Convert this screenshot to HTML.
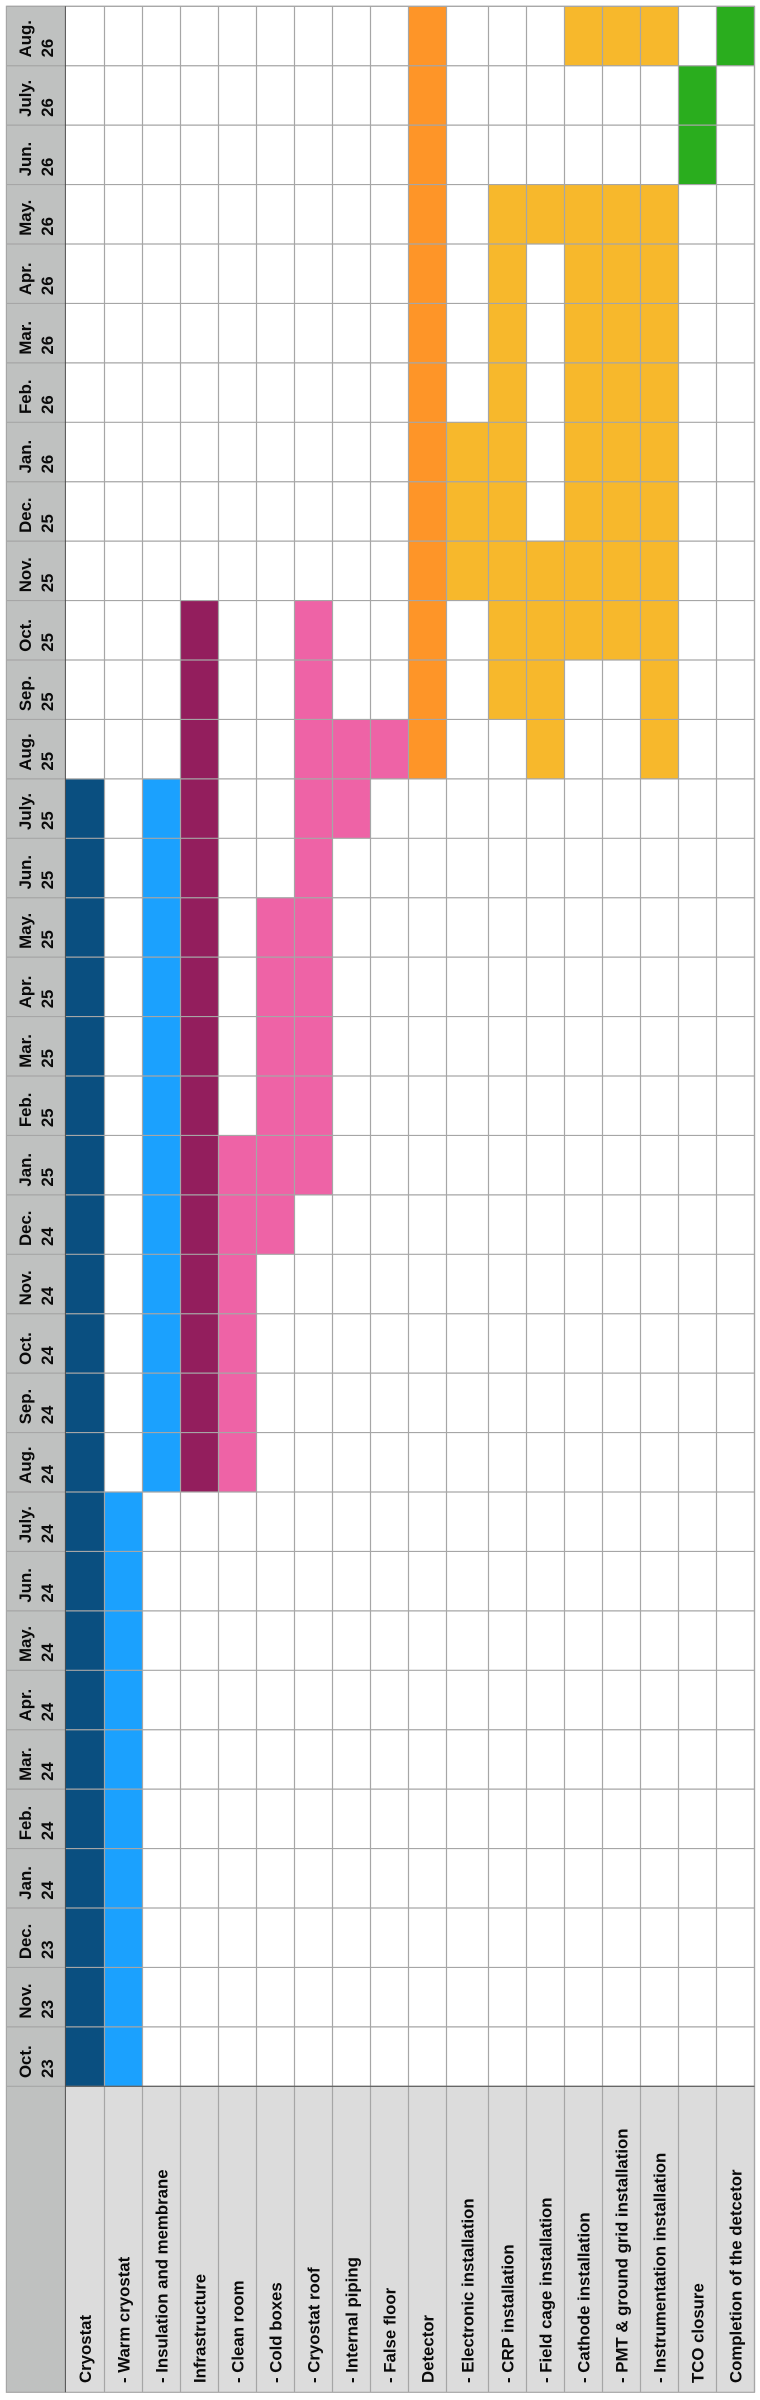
<!DOCTYPE html>
<html lang="en">
<head>
<meta charset="utf-8">
<title>Detector installation schedule</title>
<style>
html,body{margin:0;padding:0;background:#fff;}
body{width:760px;height:2400px;overflow:hidden;}
svg{display:block;}
text{font-family:"Liberation Sans",Arial,sans-serif;font-weight:bold;font-size:16.8px;fill:#0a0a0a;}
</style>
</head>
<body>
<svg id="chart" xmlns="http://www.w3.org/2000/svg" width="760" height="2400" viewBox="0 0 760 2400"></svg>
<script>
const monthLabels = ["Oct.","Nov.","Dec.","Jan.","Feb.","Mar.","Apr.","May.","Jun.","July.","Aug.","Sep.","Oct.","Nov.","Dec.","Jan.","Feb.","Mar.","Apr.","May.","Jun.","July.","Aug.","Sep.","Oct.","Nov.","Dec.","Jan.","Feb.","Mar.","Apr.","May.","Jun.","July.","Aug."];
const yearLabels = ["23","23","23","24","24","24","24","24","24","24","24","24","24","24","24","25","25","25","25","25","25","25","25","25","25","25","25","26","26","26","26","26","26","26","26"];
const taskLabels = ["Cryostat","- Warm cryostat","- Insulation and membrane","Infrastructure","- Clean room","- Cold boxes","- Cryostat roof","- Internal piping","- False floor","Detector","- Electronic installation","- CRP installation","- Field cage installation","- Cathode installation","- PMT & ground grid installation","- Instrumentation installation","TCO closure","Completion of the detcetor"];
/* Active month-index ranges [first, last] for each task; 0 = Oct. 23, 34 = Aug. 26 */
const taskRanges = [
  [[0,21]],
  [[0,9]],
  [[10,21]],
  [[10,24]],
  [[10,15]],
  [[14,19]],
  [[15,24]],
  [[21,22]],
  [[22,22]],
  [[22,34]],
  [[25,27]],
  [[23,31]],
  [[22,25],[31,31]],
  [[24,31],[34,34]],
  [[24,31],[34,34]],
  [[22,31],[34,34]],
  [[32,33]],
  [[34,34]]
];
const taskGroups = ["cryostat","warm","warm","infrastructure","piping","piping","piping","piping","piping","detector","install","install","install","install","install","install","closure","closure"];

const groupColors = {cryostat:"#0a4f80",warm:"#1ba1fe",infrastructure:"#931e5d",piping:"#ee63a6",detector:"#fe9528",install:"#f7b82c",closure:"#2aad1e"};
const GRID = "#a6a6a6", DARK = "#4d4d4d";
const frameLeft = 6.4, headerRight = 65.4, frameRight = 754.5, frameTop = 6.3, tableBottom = 2086.3, frameBottom = 2392.3;

function xScale(i){
  if(i <= 0) return headerRight;
  return 104.5 + 38*(i-1) + (i >= 11 ? 4 : 0);
}
function yScale(m){
  return tableBottom - (tableBottom - frameTop)/monthLabels.length*m;
}

const svg = document.getElementById("chart");
const NS = "http://www.w3.org/2000/svg";
function make(tag, attrs, parent){
  const el = document.createElementNS(NS, tag);
  for(const k in attrs) el.setAttribute(k, attrs[k]);
  (parent || svg).appendChild(el);
  return el;
}

/* backgrounds */
const headerBg = make("rect",{x:frameLeft,y:frameTop,width:headerRight-frameLeft,height:frameBottom-frameTop,fill:"#bfc1c0"});


const labelBg = make("rect",{x:headerRight,y:tableBottom,width:frameRight-headerRight,height:frameBottom-tableBottom,fill:"#dcdcdc"});



/* bars */
taskRanges.forEach(function(ranges, t){
  ranges.forEach(function(r){
    const bar = make("rect",{
      x:xScale(t),
      y:yScale(r[1]+1),
      width:xScale(t+1)-xScale(t),
      height:yScale(r[0])-yScale(r[1]+1),
      fill:groupColors[taskGroups[t]]
    });
    
    
  });
});

/* grid: rows */
for(let m = 0; m <= monthLabels.length; m++){
  const rowLine = make("line",{x1:frameLeft,x2:frameRight,y1:yScale(m),y2:yScale(m),stroke:GRID,"stroke-width":1.2});
  
  
}
/* grid: columns */
for(let t = 1; t <= taskLabels.length; t++){
  const colLine = make("line",{x1:xScale(t),x2:xScale(t),y1:frameTop,y2:frameBottom,stroke:GRID,"stroke-width":1.2});
  
  
}
/* outer frame */
const frame = make("rect",{x:frameLeft,y:frameTop,width:frameRight-frameLeft,height:frameBottom-frameTop,fill:"none",stroke:GRID,"stroke-width":1.2});


/* strong rules */
const headerRule = make("line",{x1:headerRight,x2:headerRight,y1:frameTop,y2:frameBottom,stroke:DARK,"stroke-width":1});


const labelRule = make("line",{x1:headerRight,x2:frameRight,y1:tableBottom,y2:tableBottom,stroke:DARK,"stroke-width":1});



/* month labels */
function vText(x, y, str){
  const el = make("text",{transform:"translate("+x+" "+y+") rotate(-90)"});
  el.textContent = str;
  return el;
}
monthLabels.forEach(function(label, m){
  const y = yScale(m) - 8.3;
  const mt = vText(30.8, y, label);
  
  
  const yt = vText(53, y, yearLabels[m]);
  
  
});

/* task labels */
taskLabels.forEach(function(label, t){
  const cx = (xScale(t) + xScale(t+1))/2;
  const lt = vText(cx + 5.8, 2383, label);
  
  
});
</script>
</body>
</html>
